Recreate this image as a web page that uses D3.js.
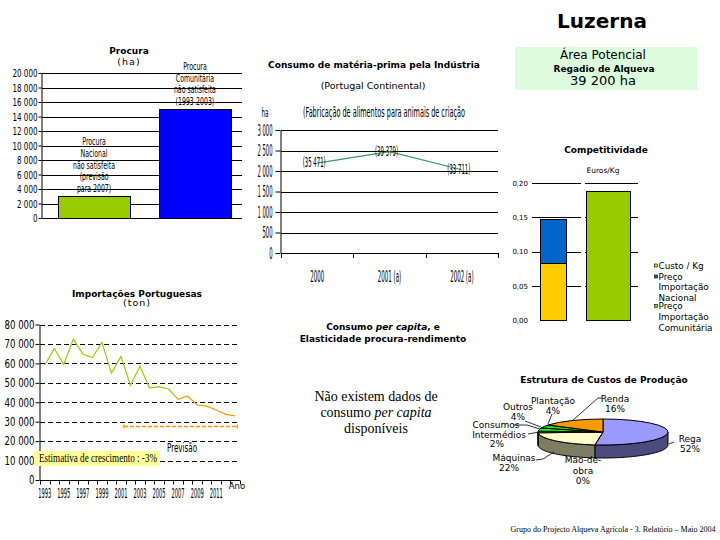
<!DOCTYPE html>
<html><head><meta charset="utf-8">
<script src="https://cdn.jsdelivr.net/npm/d3@7"></script>
<style>body{margin:0;background:#fff} svg{display:block}</style>
</head><body>
<svg id="c" width="720" height="540"></svg>
<script>
// ---------------- DATA ----------------
const procuraCategories = ["Procura Nacional", "Procura Comunitária"];
const procuraValues = [3000, 15000];
const procuraLabels = [
  ["Procura", "Nacional", "não satisfeita", "(previsão", "para 2007)"],
  ["Procura", "Comunitária", "não satisfeita", "(1993-2003)"]
];
const procuraTicks = [0, 2000, 4000, 6000, 8000, 10000, 12000, 14000, 16000, 18000, 20000];

const consumoCategories = ["2000", "2001 (a)", "2002 (a)"];
const consumoValues = [2190, 2470, 2030];
const consumoLabels = ["(35 471)", "(39 379)", "(33 711)"];
const consumoTicks = [0, 500, 1000, 1500, 2000, 2500, 3000];

const competCategories = ["Nacional", "Comunitária"];
const custoKg = [0.083, 0];
const precoImpNacional = [0.147, 0];
const precoImpComunitaria = [0, 0.189];
const competTicks = [0, 0.05, 0.10, 0.15, 0.20];
const competLegend = [["Custo / Kg"], ["Preço", "Importação", "Nacional"], ["Preço", "Importação", "Comunitária"]];

const importYears = ["1993","1994","1995","1996","1997","1998","1999","2000","2001","2002","2003","2004","2005","2006","2007","2008","2009","2010","2011","2012","2013"];
const historicalYears = ["1993","1994","1995","1996","1997","1998","1999","2000","2001","2002","2003","2004","2005","2006","2007"];
const importHistorical = [59000, 67700, 59500, 72500, 64800, 63000, 70800, 55000, 63600, 48700, 58500, 47300, 48000, 46800, 41500];
const forecastYears = ["2007","2008","2009","2010","2011","2012","2013"];
const importForecast = [41500, 43200, 38600, 38000, 36000, 33800, 33000];
const importTicks = [0, 10000, 20000, 30000, 40000, 50000, 60000, 70000, 80000];
const importLabelYears = ["1993","1995","1997","1999","2001","2003","2005","2007","2009","2011"];
const previsaoLevel = 27700;
const previsaoYears = ["2001", "2013"];

const pieLabels = [["Rega"], ["Mão-de-", "obra"], ["Máquinas"], ["Consumos", "Intermédios"], ["Outros"], ["Plantação"], ["Renda"]];
const pieValues = [52, 0, 22, 2, 4, 4, 16];

// ---------------- SETUP ----------------
const NARROW = "'Liberation Sans Narrow','Arial Narrow','DejaVu Sans Condensed',sans-serif";
const SANS = "'DejaVu Sans',Verdana,sans-serif";
const SERIF = "'Liberation Serif','Times New Roman',serif";
const svg = d3.select("#c");
svg.append("rect").attr("width", 720).attr("height", 540).attr("fill", "#fff");
const loc = d3.formatLocale({decimal: ",", thousands: " ", grouping: [3], currency: ["", ""]});
const fmtK = loc.format(",");
const fmt2 = loc.format(".2f");
const px = v => Math.round(v) + 0.5;

function text(parent, x, y, s, o = {}) {
  const t = parent.append("text").attr("x", x).attr("y", y).text(s)
    .attr("font-family", o.ff || SANS).attr("font-size", o.fs || 9)
    .attr("text-anchor", o.anchor || "middle").attr("fill", o.fill || "#000");
  if (o.fw) t.attr("font-weight", o.fw);
  if (o.fst) t.attr("font-style", o.fst);
  return t;
}
// squeeze a group of texts so that a reference text gets a given width
function fitGroup(sel, refIndex, refWidth) {
  const nodes = sel.nodes();
  const k = refWidth / nodes[refIndex].getComputedTextLength();
  nodes.forEach(n => {
    const w = n.getComputedTextLength();
    n.setAttribute("textLength", w * k);
    n.setAttribute("lengthAdjust", "spacingAndGlyphs");
  });
}

// ---------------- HEADER ----------------
text(svg, 602, 28, "Luzerna", {fs: 20, fw: "bold"});
svg.append("rect").attr("x", 515).attr("y", 47).attr("width", 182).attr("height", 43).attr("fill", "#ddfcdd");
text(svg, 603, 59, "Área Potencial", {fs: 12});
text(svg, 604, 72, "Regadio de Alqueva", {fs: 9, fw: "bold"});
text(svg, 603, 85, "39 200 ha", {fs: 13});

// ---------------- PROCURA ----------------
{
  const g = svg.append("g");
  text(g, 129, 54, "Procura", {fs: 9, fw: "bold"});
  text(g, 129, 65, "(ha)", {fs: 9.5}).attr("letter-spacing", 1);
  const y = d3.scaleLinear().domain([0, 20000]).range([218, 73]);
  const x = d3.scaleBand().domain(procuraCategories).range([44, 245]).paddingInner(0.287).paddingOuter(0.14);
  g.selectAll(".grid").data(procuraTicks).join("line")
    .attr("x1", 42).attr("x2", 242).attr("y1", d => px(y(d))).attr("y2", d => px(y(d))).attr("stroke", "#000");
  const ax = g.append("g").attr("transform", "translate(41.5,0)")
    .call(d3.axisLeft(y).tickValues(procuraTicks).tickFormat(fmtK).tickSize(3).tickSizeOuter(0).tickPadding(1));
  ax.selectAll("text").attr("font-family", NARROW).attr("font-size", 11);
  ax.selectAll("line,path").attr("stroke", "#000");
  fitGroup(ax.selectAll("text"), 10, 25);
  const colors = ["#99cc00", "#0000ff"];
  g.selectAll(".bar").data(procuraValues).join("rect")
    .attr("x", (d, i) => px(x(procuraCategories[i])))
    .attr("width", Math.round(x.bandwidth()))
    .attr("y", d => px(y(d))).attr("height", d => Math.round(y(0)) - Math.round(y(d)))
    .attr("fill", (d, i) => colors[i]).attr("stroke", "#000");
  const lbls = [];
  procuraValues.forEach((v, i) => {
    const lines = procuraLabels[i];
    const cx = x(procuraCategories[i]) + x.bandwidth() / 2;
    lines.forEach((s, j) => {
      lbls.push(text(g, cx, y(v) - 4 - (lines.length - 1 - j) * 11.8, s, {ff: NARROW, fs: 10}).node());
    });
  });
  fitGroup(d3.selectAll(lbls), 2, 42);
}

// ---------------- CONSUMO INDUSTRIA ----------------
{
  const g = svg.append("g");
  text(g, 374, 68, "Consumo de matéria-prima pela Indústria", {fs: 9, fw: "bold"});
  text(g, 373, 89, "(Portugal Continental)", {fs: 9.5});
  const hl = text(g, 265, 117, "ha", {ff: NARROW, fs: 13});
  const st = text(g, 303, 117, "(Fabricação de alimentos para animais de criação", {ff: NARROW, fs: 13.5, anchor: "start"});
  fitGroup(st, 0, 162);
  fitGroup(hl, 0, 7);
  const y = d3.scaleLinear().domain([0, 3000]).range([253, 130]);
  const x = d3.scaleBand().domain(consumoCategories).range([281, 498]);
  g.selectAll(".grid").data(consumoTicks).join("line")
    .attr("x1", 281).attr("x2", 498).attr("y1", d => px(y(d))).attr("y2", d => px(y(d))).attr("stroke", "#000");
  const ax = g.append("g").attr("transform", "translate(280.5,0)")
    .call(d3.axisLeft(y).tickValues(consumoTicks).tickFormat(fmtK).tickSize(5).tickSizeOuter(0).tickPadding(3));
  ax.selectAll("text").attr("font-family", NARROW).attr("font-size", 15).attr("dy", "0.34em");
  ax.selectAll("line,path").attr("stroke", "#000");
  fitGroup(ax.selectAll("text"), 6, 15);
  const bounds = consumoCategories.map(c => x(c)).concat([x.range()[1]]);
  g.selectAll(".xt").data(bounds).join("line")
    .attr("x1", d => px(d)).attr("x2", d => px(d)).attr("y1", 253).attr("y2", 258).attr("stroke", "#000");
  const xl = g.selectAll(".xl").data(consumoCategories).join("text")
    .attr("x", d => x(d) + x.bandwidth() / 2).attr("y", 282).text(d => d)
    .attr("font-family", NARROW).attr("font-size", 16).attr("text-anchor", "middle");
  fitGroup(xl, 0, 14);
  const line = d3.line().x((d, i) => x(consumoCategories[i]) + x.bandwidth() / 2).y(d => y(d));
  g.append("path").attr("d", line(consumoValues)).attr("fill", "none").attr("stroke", "#339966").attr("stroke-width", 1.2);
  const dl = g.selectAll(".dl").data(consumoValues).join("text")
    .attr("x", (d, i) => x(consumoCategories[i]) + x.bandwidth() / 2 - 3).attr("y", d => y(d) + 4)
    .text((d, i) => consumoLabels[i])
    .attr("font-family", NARROW).attr("font-size", 14).attr("text-anchor", "middle");
  fitGroup(dl, 0, 23);
}

// ---------------- COMPETITIVIDADE ----------------
{
  const g = svg.append("g");
  text(g, 606, 153, "Competitividade", {fs: 9, fw: "bold"});
  text(g, 603, 173, "Euros/Kg", {fs: 7.5});
  const y = d3.scaleLinear().domain([0, 0.2]).range([320, 183]);
  const x = d3.scaleBand().domain(competCategories).range([532, 638]);
  const segs = [[532, 581], [585, 638]];
  competTicks.filter(t => t > 0).forEach(t => {
    segs.forEach(s => g.append("line").attr("x1", s[0]).attr("x2", s[1])
      .attr("y1", px(y(t))).attr("y2", px(y(t))).attr("stroke", "#000"));
  });
  const ax = g.append("g").attr("transform", "translate(532,0)")
    .call(d3.axisLeft(y).tickValues(competTicks).tickFormat(fmt2).tickSize(0).tickPadding(4));
  ax.select(".domain").remove();
  ax.selectAll("text").attr("font-family", SANS).attr("font-size", 7);
  const bx0 = x(competCategories[0]) + 8, bw0 = 26;
  const bx1 = x(competCategories[1]) + 1, bw1 = 44;
  const bar = (bx, bw, v, col) => g.append("rect").attr("x", px(bx)).attr("width", bw)
    .attr("y", px(y(v))).attr("height", Math.round(y(0)) - Math.round(y(v))).attr("fill", col).attr("stroke", "#000");
  bar(bx0, bw0, precoImpNacional[0], "#0066cc");
  bar(bx0, bw0, custoKg[0], "#ffcc00");
  bar(bx1, bw1, precoImpComunitaria[1], "#99cc00");
  const legCols = ["#ffcc00", "#0066cc", "#99cc00"];
  const legY = [268.5, 279.5, 309];
  competLegend.forEach((lines, i) => {
    g.append("rect").attr("x", 654.5).attr("y", legY[i] - 4.5).attr("width", 3).attr("height", 3)
      .attr("fill", legCols[i]).attr("stroke", "#000").attr("stroke-width", 0.6);
    lines.forEach((s, j) => text(g, 658.5, legY[i] + j * 10.9, s, {fs: 8.8, anchor: "start"}));
  });
}

// ---------------- IMPORTACOES ----------------
{
  const g = svg.append("g");
  text(g, 137, 297, "Importações Portuguesas", {fs: 9, fw: "bold"});
  text(g, 137, 306, "(ton)", {fs: 9.5}).attr("letter-spacing", 1);
  const y = d3.scaleLinear().domain([0, 80000]).range([480, 324.5]);
  const x = d3.scaleBand().domain(importYears).range([40, 240]);
  const cx = d => x(d) + x.bandwidth() / 2;
  g.selectAll(".grid").data(importTicks.filter(t => t > 0)).join("line")
    .attr("x1", 40).attr("x2", 240).attr("y1", d => px(y(d))).attr("y2", d => px(y(d)))
    .attr("stroke", "#000").attr("stroke-dasharray", "5,3");
  const ax = g.append("g").attr("transform", "translate(39.5,0)")
    .call(d3.axisLeft(y).tickValues(importTicks).tickFormat(fmtK).tickSize(4).tickSizeOuter(0).tickPadding(1));
  ax.selectAll("text").attr("font-family", NARROW).attr("font-size", 12);
  ax.selectAll("line,path").attr("stroke", "#000");
  fitGroup(ax.selectAll("text"), 8, 30);
  g.append("line").attr("x1", 40).attr("x2", 240).attr("y1", px(y(0))).attr("y2", px(y(0))).attr("stroke", "#000");
  const bounds = importYears.map(d => x(d)).concat([x.range()[1]]);
  g.selectAll(".xt").data(bounds).join("line")
    .attr("x1", d => px(d)).attr("x2", d => px(d)).attr("y1", px(y(0))).attr("y2", px(y(0)) + 4).attr("stroke", "#000");
  const xl = g.selectAll(".xl").data(importLabelYears).join("text")
    .attr("x", d => cx(d)).attr("y", 497.5).text(d => d)
    .attr("font-family", NARROW).attr("font-size", 13.5).attr("text-anchor", "middle");
  fitGroup(xl, 0, 13);
  text(g, 237, 489, "Ano", {ff: NARROW, fs: 9.5});
  const lh = d3.line().x((d, i) => cx(historicalYears[i])).y(d => y(d));
  g.append("path").attr("d", lh(importHistorical)).attr("fill", "none").attr("stroke", "#99cc00").attr("stroke-width", 1.2);
  const lf = d3.line().x((d, i) => cx(forecastYears[i])).y(d => y(d));
  g.append("path").attr("d", lf(importForecast)).attr("fill", "none").attr("stroke", "#ff9900").attr("stroke-width", 1.2);
  // previsão bracket
  const xa = cx(previsaoYears[0]) + 3, xb = cx(previsaoYears[1]) + 2, yp = px(y(previsaoLevel));
  g.append("line").attr("x1", xa).attr("x2", xb).attr("y1", yp).attr("y2", yp)
    .attr("stroke", "#ff9900").attr("stroke-width", 1.3).attr("stroke-dasharray", "4,2");
  [xa, xb].forEach(xx => g.append("line").attr("x1", xx).attr("x2", xx).attr("y1", yp - 2).attr("y2", yp + 2)
    .attr("stroke", "#ff9900").attr("stroke-width", 1.5));
  const pv = text(g, 182, 452, "Previsão", {ff: NARROW, fs: 13});
  fitGroup(pv, 0, 30);
  g.append("rect").attr("x", 34).attr("y", 451).attr("width", 126).attr("height", 15).attr("fill", "#ffff99");
  const et = text(g, 39, 462, "Estimativa de crescimento : -3%", {ff: SERIF, fs: 12.5, anchor: "start"});
  fitGroup(et, 0, 118);
}

// ---------------- CONSUMO PER CAPITA ----------------
{
  const g = svg.append("g");
  const t1 = text(g, 383, 330, "", {fs: 9, fw: "bold"});
  t1.append("tspan").text("Consumo ");
  t1.append("tspan").attr("font-style", "italic").text("per capita");
  t1.append("tspan").text(", e");
  text(g, 383, 342, "Elasticidade procura-rendimento", {fs: 9, fw: "bold"});
  text(g, 376, 401, "Não existem dados de", {ff: SERIF, fs: 14});
  const t2 = text(g, 376, 417, "", {ff: SERIF, fs: 14});
  t2.append("tspan").text("consumo ");
  t2.append("tspan").attr("font-style", "italic").text("per capita");
  text(g, 376, 433, "disponíveis", {ff: SERIF, fs: 14});
}

// ---------------- PIE ----------------
{
  const g = svg.append("g");
  text(g, 604, 383, "Estrutura de Custos de Produção", {fs: 9, fw: "bold"});
  const cx = 603, cy = 432, rx = 65, ry = 13, depth = 13;
  const topColors = ["#9999ff", "#ffffff", "#ffffcc", "#ff99cc", "#00ff00", "#33cc33", "#ff9900"];
  const arcs = d3.pie().sort(null).value(d => d)(pieValues);
  const P = (t, dy) => [cx + rx * Math.sin(t), cy - ry * Math.cos(t) + dy];
  // side walls (front half only)
  arcs.forEach((a, i) => {
    const a0 = Math.max(a.startAngle, Math.PI / 2), a1 = Math.min(a.endAngle, 3 * Math.PI / 2);
    if (a1 <= a0) return;
    const n = 40, pts = [];
    for (let k = 0; k <= n; k++) pts.push(P(a0 + (a1 - a0) * k / n, 0));
    for (let k = n; k >= 0; k--) pts.push(P(a0 + (a1 - a0) * k / n, depth));
    g.append("path").attr("d", "M" + pts.map(p => p.join(",")).join("L") + "Z")
      .attr("fill", d3.color(topColors[i]).darker(2)).attr("stroke", "#000").attr("stroke-width", 1);
  });
  const arc = d3.arc().innerRadius(0).outerRadius(rx);
  g.append("g").attr("transform", `translate(${cx},${cy}) scale(1,${ry / rx})`)
    .selectAll("path").data(arcs).join("path").attr("d", arc)
    .attr("fill", (d, i) => topColors[i]).attr("stroke", "#000").attr("vector-effect", "non-scaling-stroke");
  // leader lines
  const leaders = [
    [[602, 398], [598, 398], [572, 421]],
    [[552, 414], [548, 424]],
    [[525, 421], [541, 427]],
    [[513, 425], [527, 425], [540, 429]],
    [[528, 434], [539, 432]],
    [[536, 460], [543, 459], [554, 452]],
    [[669, 444], [674, 442]]
  ];
  leaders.forEach(l => g.append("path").attr("d", d3.line()(l)).attr("fill", "none").attr("stroke", "#000").attr("stroke-width", 0.8));
  // labels: [index, x, baseline]
  const lp = [
    [0, 690, 442], [1, 583, 463], [2, 514, 461], [3, 496, 428], [4, 518, 410], [5, 553, 404], [6, 615, 402]
  ];
  lp.forEach(([i, x, yb]) => {
    const lines = pieLabels[i].concat([pieValues[i] + "%"]);
    lines.forEach((s, j) => {
      const t = text(g, x, yb + j * (i === 1 ? 10.5 : 9.5), s, {fs: 9});
      if (i === 3 && j === 1) t.attr("x", 499);
      if (i === 3 && j === 2) t.attr("x", 497);
      if (i === 2 && j === 1) t.attr("x", 509);
    });
  });
}

// ---------------- FOOTER ----------------
const ft = text(svg, 613, 532, "Grupo do Projecto Alqueva Agrícola - 3. Relatório – Maio 2004", {ff: SERIF, fs: 7.5});
fitGroup(ft, 0, 205);
</script>
</body></html>
